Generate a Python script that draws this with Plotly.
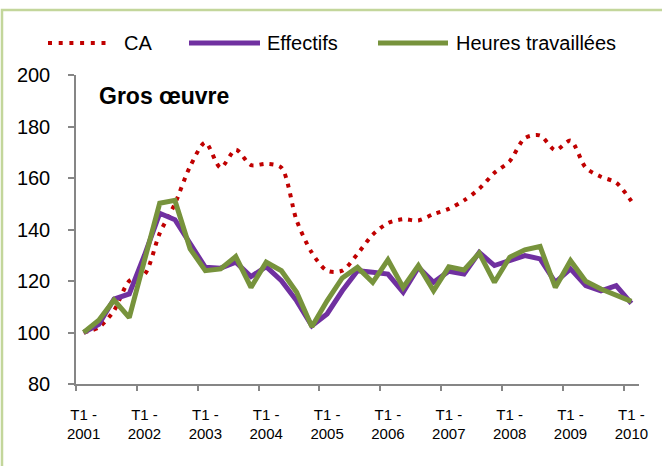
import plotly.graph_objects as go

# ===========================================
# Données (indice base 100 au T1 2001)
# ===========================================
annees = list(range(2001, 2011))
trimestres = [f"T{q} - {a}" for a in annees for q in range(1, 5)][:37]

ca = [100, 102, 108.5, 120, 122.5, 138.5, 150, 164.5, 173.8, 164,
      171, 165, 165.5, 164, 143.5, 131, 124, 124, 130.5, 138,
      142.5, 144, 143.5, 146, 148, 151.3, 155.8, 162, 166.5, 175.5,
      176.5, 170.8, 174.5, 164, 160.5, 158.2, 151]

effectifs = [100, 103.2, 113, 115, 130, 146.3, 143.8, 134.4, 125.3, 125,
             127.3, 121.7, 125.6, 120.1, 112.3, 102.6, 107.2, 116.2, 124, 123.4,
             122.7, 115.6, 125.3, 119.5, 123.8, 122.7, 131.1, 126, 127.9, 129.9,
             128.6, 119.5, 124.7, 118.2, 116.2, 118.2, 111.3]

heures = [100, 104.8, 112.6, 105.8, 128, 150.2, 151.3, 132.5, 124, 124.7,
          129.5, 117.5, 127.3, 124, 115.6, 102.2, 112.3, 121.2, 125.3, 119.5,
          128.2, 117.5, 126, 116.2, 125.5, 124.3, 130.8, 119.5, 129.2, 132.1,
          133.4, 117.5, 127.9, 119.9, 116.9, 114.3, 112.1]

ROUGE = "#C00000"
VIOLET = "#7030A0"
VERT = "#77933C"
GRIS = "#868686"
FONT = "Liberation Sans, Arial, sans-serif"

x = list(range(len(trimestres)))

fig = go.Figure()
fig.add_trace(go.Scatter(x=x, y=ca, name="CA", mode="lines",
                         line=dict(color=ROUGE, width=4, dash="4px,6px",
                                   shape="spline", smoothing=0.8)))
fig.add_trace(go.Scatter(x=x, y=effectifs, name="Effectifs", mode="lines",
                         line=dict(color=VIOLET, width=5)))
fig.add_trace(go.Scatter(x=x, y=heures, name="Heures travaillées", mode="lines",
                         line=dict(color=VERT, width=5)))

# étiquettes : un T1 sur quatre
lab_idx = [i for i, t in enumerate(trimestres) if t.startswith("T1")]
lab_txt = [trimestres[i].replace(" - ", " -<br>") for i in lab_idx]

W, H = 662, 466
L, R, T, B = 76, 23, 75, 82
pw, ph = W - L - R, H - T - B


def px2paper(xp, yp):
    return (xp - L) / pw, 1 - (yp - T) / ph


fig.update_layout(
    width=W, height=H,
    margin=dict(l=L, r=R, t=T, b=B),
    paper_bgcolor="white", plot_bgcolor="white",
    showlegend=False,
    font=dict(family=FONT, color="black"),
    xaxis=dict(range=[-0.5, len(x) - 0.5], showgrid=False, zeroline=False,
               showline=True, linecolor=GRIS, linewidth=1.5,
               tickmode="array", tickvals=lab_idx, ticktext=lab_txt, ticks="",
               tickfont=dict(size=15), ticklabelstandoff=16,
               minor=dict(tickvals=[i - 0.5 for i in lab_idx if i > 0] + [-0.5],
                          ticks="outside", ticklen=5, tickcolor=GRIS, tickwidth=1.5)),
    yaxis=dict(range=[80, 200], dtick=20, showgrid=False, zeroline=False,
               showline=True, linecolor=GRIS, linewidth=1.5,
               ticks="outside", ticklen=6, tickcolor=GRIS, tickwidth=1.5,
               tickfont=dict(size=20), ticklabelstandoff=14),
)

# cadre vert clair
x0, y1 = px2paper(2, 10)
fig.add_shape(type="rect", xref="paper", yref="paper", x0=x0, y0=-1, x1=2, y1=y1,
              line=dict(color="#C3D69B", width=2.5), layer="below")

# titre
tx, ty = px2paper(97, 96)
fig.add_annotation(text="<b>Gros œuvre</b>", xref="paper", yref="paper", x=tx, y=ty,
                   xanchor="left", yanchor="middle", showarrow=False,
                   font=dict(size=23, family=FONT))

# légende en haut
items = [("CA", ROUGE, "4px,6.7px", 4, 48, 112, 122),
         ("Effectifs", VIOLET, "solid", 5, 189, 260, 265),
         ("Heures travaillées", VERT, "solid", 5, 378, 448, 454)]
for nom, col, dash, w, a, b, t in items:
    xa, yl = px2paper(a, 43)
    xb, _ = px2paper(b, 43)
    fig.add_shape(type="line", xref="paper", yref="paper", x0=xa, x1=xb, y0=yl, y1=yl,
                  line=dict(color=col, width=w, dash=dash))
    xt, _ = px2paper(t, 43)
    fig.add_annotation(text=nom, xref="paper", yref="paper", x=xt, y=yl,
                       xanchor="left", yanchor="middle", showarrow=False,
                       font=dict(size=20, family=FONT))

fig.write_html("out.html", config={"displayModeBar": False},
               post_script="document.body.style.margin='0';")
